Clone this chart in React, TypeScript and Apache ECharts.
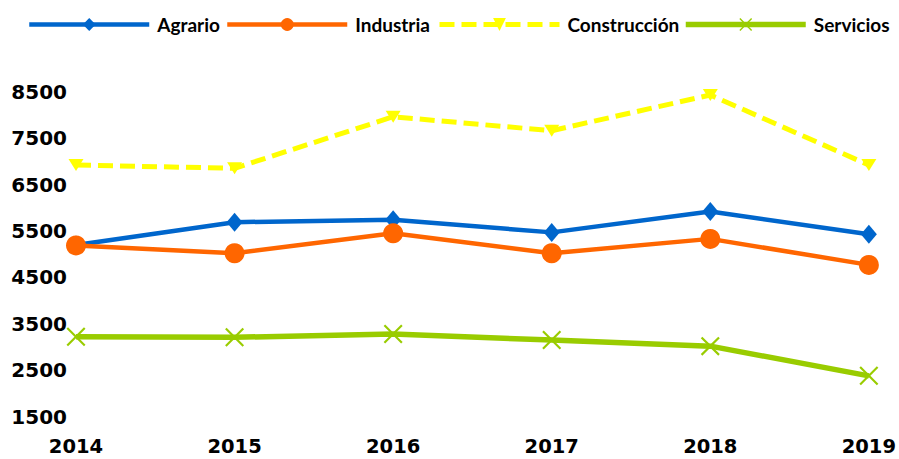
import React, { useEffect, useRef } from "react";
import * as echarts from "echarts";

const years = ["2014", "2015", "2016", "2017", "2018", "2019"];
const agrario = [5200, 5690, 5740, 5470, 5920, 5430];
const industria = [5190, 5020, 5450, 5020, 5330, 4770];
const construccion = [6920, 6850, 7960, 7660, 8430, 6920];
const servicios = [3220, 3210, 3280, 3150, 3020, 2380];
const seriesNames = ["Agrario", "Industria", "Construcción", "Servicios"];

const X_SYMBOL =
  "path://M0,1.6L1.6,0L10,8.4L18.4,0L20,1.6L11.6,10L20,18.4L18.4,20L10,11.6L1.6,20L0,18.4L8.4,10Z";

export default function App() {
  const ref = useRef<HTMLDivElement>(null);
  useEffect(() => {
    document.body.style.margin = "0";
    const chart = echarts.init(ref.current!, null, { renderer: "svg" });
    const legendText = {
      fontFamily: "Lato",
      fontWeight: "bold" as const,
      fontSize: 19,
      color: "#000",
      padding: [0, 0, 0, 3],
    };
    const legendLefts = [22, 220, 432, 678];
    const legendLines = [
      { width: 4.5, type: "solid" },
      { width: 4.5, type: "solid" },
      { width: 5, type: [15, 7] },
      { width: 5.5, type: "solid" },
    ];
    chart.setOption({
      animation: false,
      backgroundColor: "#fff",
      legend: seriesNames.map((n, i) => ({
        data: [n],
        left: legendLefts[i],
        top: 10,
        itemWidth: 120,
        itemHeight: 16,
        textStyle: legendText,
        lineStyle: legendLines[i],
      })),
      grid: { left: 76, right: 30, top: 91.7, bottom: 42.3, containLabel: false },
      xAxis: {
        type: "category",
        data: years,
        boundaryGap: false,
        axisLine: { show: false },
        axisTick: { show: false },
        splitLine: { show: false },
        axisLabel: {
          margin: 20,
          fontFamily: "DejaVu Sans",
          fontWeight: "bold",
          fontSize: 19.5,
          lineHeight: 20,
          color: "#000",
        },
      },
      yAxis: {
        type: "value",
        min: 1500,
        max: 8500,
        interval: 1000,
        axisLine: { show: false },
        axisTick: { show: false },
        splitLine: { show: false },
        axisLabel: {
          margin: 9,
          fontFamily: "DejaVu Sans",
          fontWeight: "bold",
          fontSize: 20,
          color: "#000",
          formatter: (v: number) => String(v),
        },
      },
      series: [
        {
          name: "Agrario",
          type: "line",
          data: agrario,
          symbol: "diamond",
          symbolSize: [16, 19],
          lineStyle: { color: "#0066CC", width: 4.5 },
          itemStyle: { color: "#0066CC" },
        },
        {
          name: "Industria",
          type: "line",
          data: industria,
          symbol: "circle",
          symbolSize: 20,
          lineStyle: { color: "#FF6600", width: 4.5 },
          itemStyle: { color: "#FF6600" },
        },
        {
          name: "Construcción",
          type: "line",
          data: construccion,
          symbol: "triangle",
          symbolRotate: 180,
          symbolSize: [15, 12],
          lineStyle: { color: "#FFFF00", width: 5, type: [15, 7] },
          itemStyle: { color: "#FFFF00" },
        },
        {
          name: "Servicios",
          type: "line",
          data: servicios,
          symbol: X_SYMBOL,
          symbolSize: 19,
          lineStyle: { color: "#99CC00", width: 5.5 },
          itemStyle: { color: "#99CC00" },
        },
      ],
    });
    return () => chart.dispose();
  }, []);
  return <div ref={ref} style={{ width: 899, height: 459 }} />;
}
